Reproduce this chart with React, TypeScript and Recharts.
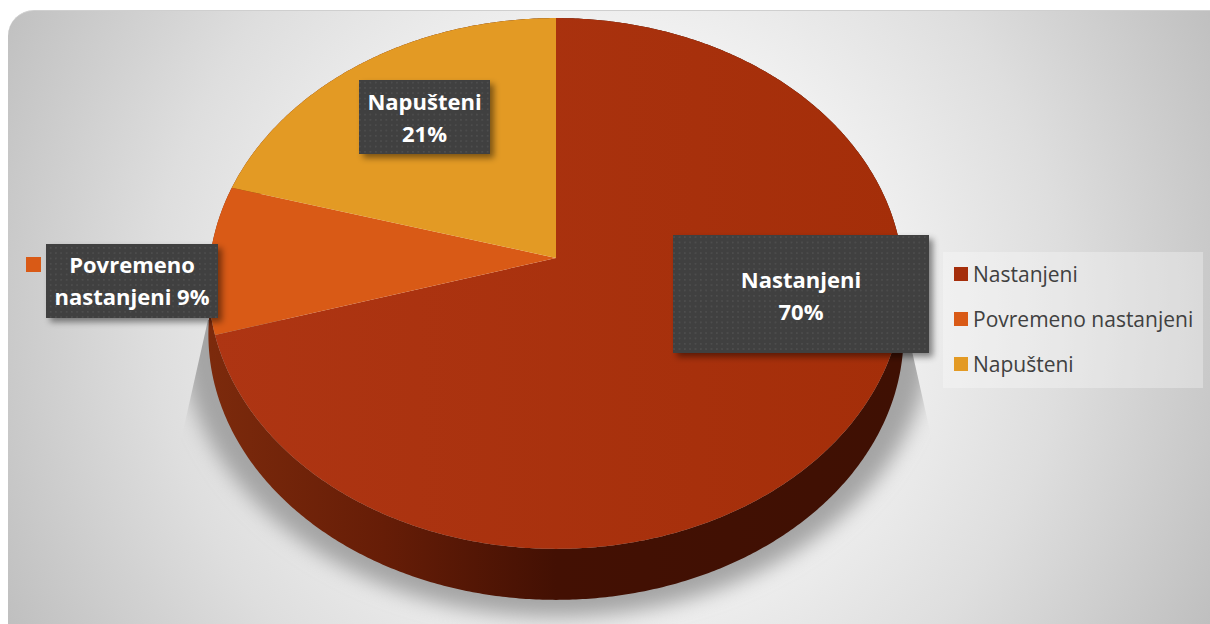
import React from 'react';
import { PieChart, Pie, Legend } from 'recharts';

const categories = ['Nastanjeni', 'Povremeno nastanjeni', 'Napušteni'];
const values = [70, 9, 21];
const colors = ['#A52E0B', '#D95A16', '#E39A24'];
const labelLines = [['Nastanjeni', '70%'], ['Povremeno', 'nastanjeni 9%'], ['Napušteni', '21%']];
const labelBoxes = [
  { x: 673, y: 235, w: 256, h: 118, textY: 288 },
  { x: 46, y: 244, w: 172, h: 74, textY: 273 },
  { x: 359, y: 80, w: 131, h: 74, textY: 110 },
];

const table = categories.map((name, i) => ({ name, value: values[i], fill: colors[i] }));

const FONT = '"Open Sans", sans-serif';
const TILT = 0.096;
const SQUASH = 0.76;
const DEPTH = 51;
const WARP = 0.028;

function project(cx: number, cy: number, r: number, angle: number, dy = 0) {
  const t0 = ((90 - angle) * Math.PI) / 180;
  const t = t0 + WARP * Math.sin(t0) * Math.sin(t0);
  const u = Math.sin(t);
  const v = -Math.cos(t);
  const d = 1 - TILT * v;
  return [cx + (r * u) / d, cy + (r * SQUASH * v) / d + dy];
}

function arc(cx: number, cy: number, r: number, from: number, to: number, dy = 0) {
  const n = Math.max(2, Math.ceil(Math.abs(to - from) * 2));
  const pts: string[] = [];
  for (let i = 0; i <= n; i++) {
    const p = project(cx, cy, r, from + ((to - from) * i) / n, dy);
    pts.push(`${p[0].toFixed(2)} ${p[1].toFixed(2)}`);
  }
  return pts;
}

function TopFace(props: any) {
  const { cx, cy, outerRadius, startAngle, endAngle, index } = props;
  const pts = arc(cx, cy, outerRadius, startAngle, endAngle);
  return <path d={`M${cx} ${cy}L${pts.join('L')}Z`} fill={index === 0 ? 'url(#topRed)' : colors[index]} />;
}

function Wall(props: any) {
  const { cx, cy, outerRadius, startAngle, endAngle, index } = props;
  const lower = arc(cx, cy, outerRadius, startAngle, endAngle, DEPTH);
  const upper = arc(cx, cy, outerRadius, endAngle, startAngle);
  const ground = arc(cx, cy, outerRadius * 1.08, 0, 360, 45);
  return (
    <g>
      {index === 0 && (
        <g>
          <defs>
            <linearGradient id="wallRed" gradientUnits="userSpaceOnUse" x1={cx - outerRadius} x2={cx + outerRadius} y1="0" y2="0">
              <stop offset="0" stopColor="#7C2A0C" />
              <stop offset="0.25" stopColor="#661D07" />
              <stop offset="0.5" stopColor="#431003" />
              <stop offset="1" stopColor="#3F1003" />
            </linearGradient>
            <linearGradient id="topRed" gradientUnits="userSpaceOnUse" x1={cx - outerRadius} x2={cx + outerRadius} y1="0" y2="0">
              <stop offset="0" stopColor="#AE3513" />
              <stop offset="1" stopColor="#A42E09" />
            </linearGradient>
            <filter id="softShadow" x="-10%" y="-10%" width="120%" height="120%">
              <feGaussianBlur stdDeviation="10" />
            </filter>
            <filter id="boxShadow" x="-15%" y="-15%" width="130%" height="130%">
              <feDropShadow dx="4" dy="4" stdDeviation="3" floodColor="#000" floodOpacity="0.45" />
            </filter>
            <pattern id="dots" patternUnits="userSpaceOnUse" width="5.33" height="5.33">
              <rect width="5.33" height="5.33" fill="#404040" />
              <circle cx="2.6" cy="2.6" r="0.8" fill="#545454" />
            </pattern>
            <clipPath id="groundClip">
              <path d="M208 320L181 440L181 624L932 624L932 440L905 320Z" />
            </clipPath>
          </defs>
          <g clipPath="url(#groundClip)">
            <path d={`M${ground.join('L')}Z`} fill="#A4A4A4" filter="url(#softShadow)" />
          </g>
        </g>
      )}
      <path d={`M${lower.join('L')}L${upper.join('L')}Z`} fill="url(#wallRed)" />
    </g>
  );
}

function DataLabel(props: any) {
  const { index } = props;
  const b = labelBoxes[index];
  const mid = b.x + b.w / 2;
  return (
    <g>
      {index === 1 && <rect x={26} y={257} width={15} height={15} fill={colors[index]} />}
      <rect x={b.x} y={b.y} width={b.w} height={b.h} fill="url(#dots)" filter="url(#boxShadow)" />
      {labelLines[index].map((line, i) => (
        <text key={line} x={mid} y={b.textY + i * 32} textAnchor="middle" fontFamily={FONT} fontWeight={700} fontSize={22} fill="#FFFFFF">
          {line}
        </text>
      ))}
    </g>
  );
}

function LegendBox({ payload }: any) {
  const rows = categories
    .map((name) => (payload || []).find((e: any) => e.value === name))
    .filter(Boolean);
  return (
    <div style={{ width: 260, height: 136, background: 'rgba(255,255,255,0.3)', boxSizing: 'border-box' }}>
      {rows.map((e: any) => (
        <div key={e.value} style={{ display: 'flex', alignItems: 'center', height: 45, marginLeft: 11, position: 'relative', top: -1 }}>
          <span style={{ width: 14, height: 14, background: e.color, marginRight: 5, display: 'inline-block' }} />
          <span style={{ fontFamily: FONT, fontSize: 21, color: '#404040', whiteSpace: 'nowrap' }}>{e.value}</span>
        </div>
      ))}
    </div>
  );
}

export default function App() {
  return (
    <div style={{ position: 'absolute', left: 0, top: 0, width: 1210, height: 624, overflow: 'hidden', background: '#fff' }}>
      <div
        style={{
          position: 'absolute', left: 8, top: 10, width: 1240, height: 660, borderRadius: 26,
          borderTop: '1px solid #cfcfcf', boxSizing: 'border-box',
          background: 'radial-gradient(circle 700px at 600px 300px, #ffffff 0%, #f4f4f4 35%, #dedede 65%, #bcbcbc 100%)',
        }}
      />
      <div style={{ position: 'absolute', left: 0, top: 0 }}>
        <PieChart width={1210} height={624} margin={{ top: 0, right: 0, bottom: 0, left: 0 }}>
          <Pie data={table} dataKey="value" nameKey="name" cx={556} cy={258} outerRadius={346} startAngle={90} endAngle={-270}
            isAnimationActive={false} legendType="none" stroke="none" shape={Wall} label={false} />
          <Pie data={table} dataKey="value" nameKey="name" cx={556} cy={258} outerRadius={346} startAngle={90} endAngle={-270}
            isAnimationActive={false} legendType="square" stroke="none" shape={TopFace} label={DataLabel} labelLine={false} />
          <Legend layout="vertical" align="right" verticalAlign="top" content={LegendBox}
            wrapperStyle={{ position: 'absolute', left: 943, top: 252, right: 'auto', width: 260, height: 136 }} />
        </PieChart>
      </div>
    </div>
  );
}
